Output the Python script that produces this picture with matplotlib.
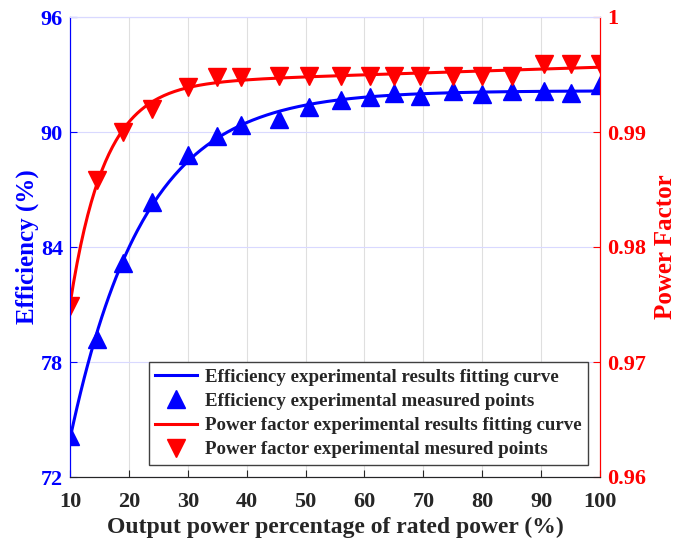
import numpy as np
import matplotlib
matplotlib.use('Agg')
import matplotlib.pyplot as plt

# output power as % of rated power
load_pct = [10, 14.5, 19, 24, 30, 35, 39, 45.5, 50.5, 56, 61, 65, 69.5, 75, 80, 85, 90.5, 95, 100]
# measured efficiency (%)
efficiency = [74.14, 79.18, 83.18, 86.35, 88.78, 89.77, 90.35, 90.70, 91.30, 91.65,
              91.83, 92.05, 91.86, 92.14, 92.00, 92.14, 92.14, 92.03, 92.43]
# measured power factor
power_factor = [0.9749, 0.9858, 0.9900, 0.9920, 0.9939, 0.9948, 0.9948, 0.9949, 0.9949, 0.9949,
                0.9949, 0.9949, 0.9949, 0.9949, 0.9949, 0.9949, 0.9959, 0.9959, 0.9959]

x_ticks = [10, 20, 30, 40, 50, 60, 70, 80, 90, 100]
eff_ticks = [72, 78, 84, 90, 96]
pf_ticks = [0.96, 0.97, 0.98, 0.99, 1.0]
pf_ticklabels = ['0.96', '0.97', '0.98', '0.99', '1']


def fit_curve(x, y, slope=True):
    # least squares fit of y = a + d*x + b*exp(-c*x), c found by grid search
    x = np.asarray(x, float)
    y = np.asarray(y, float)
    best = None
    for c in np.linspace(0.01, 0.3, 600):
        cols = [np.ones_like(x), np.exp(-c * x)]
        if slope:
            cols.append(x)
        A = np.column_stack(cols)
        coef, *_ = np.linalg.lstsq(A, y, rcond=None)
        err = np.sum((A @ coef - y) ** 2)
        if best is None or err < best[0]:
            best = (err, c, coef)
    _, c, coef = best
    xs = np.linspace(x.min(), x.max(), 300)
    ys = coef[0] + coef[1] * np.exp(-c * xs)
    if slope:
        ys = ys + coef[2] * xs
    return xs, ys


plt.rcParams['font.family'] = ['Liberation Serif', 'DejaVu Serif']
plt.rcParams['font.weight'] = 'bold'

blue = '#0000ff'
red = '#ff0000'
dark = '#262626'

fig = plt.figure(figsize=(6.86, 5.42), dpi=100)
ax = fig.add_axes([70 / 686, 65 / 542, 530 / 686, 460 / 542])
ax2 = ax.twinx()

xs, ys = fit_curve(load_pct, efficiency, slope=False)
l1, = ax.plot(xs, ys, color=blue, lw=2.2)
m1, = ax.plot(load_pct, efficiency, '^', color=blue, ms=13, ls='none')

xs2, ys2 = fit_curve(load_pct, power_factor, slope=True)
l2, = ax2.plot(xs2, ys2, color=red, lw=2.2)
m2, = ax2.plot(load_pct, power_factor, 'v', color=red, ms=13, ls='none')

ax.set_xlim(10, 100)
ax.set_ylim(72, 96)
ax2.set_ylim(0.96, 1.0)
ax.set_xticks(x_ticks)
ax.set_yticks(eff_ticks)
ax2.set_yticks(pf_ticks)
ax2.set_yticklabels(pf_ticklabels)

ax.grid(True, axis='x', color='#dfdfdf', lw=0.8)
ax.grid(True, axis='y', color='#d9d9ff', lw=0.8)
ax.set_axisbelow(True)

ax.tick_params(axis='x', direction='in', length=5, colors=dark, labelsize=16, pad=11)
ax.tick_params(axis='y', direction='in', length=5, colors=blue, labelsize=16, pad=5)
ax2.tick_params(axis='y', direction='in', length=5, colors=red, labelsize=16, pad=5)

for a in (ax, ax2):
    a.spines['left'].set_color(blue)
    a.spines['right'].set_color(red)
    a.spines['bottom'].set_color(dark)
    a.spines['top'].set_color('#d9d9ff')

ax.set_xlabel('Output power percentage of rated power (%)', fontsize=17, fontweight='bold',
              color=dark, labelpad=3)
ax.set_ylabel('Efficiency (%)', fontsize=18, fontweight='bold', color=blue, labelpad=1)
ax2.set_ylabel('Power Factor', fontsize=18, fontweight='bold', color=red, labelpad=6)

leg = ax2.legend([l1, m1, l2, m2],
                 ['Efficiency experimental results fitting curve',
                  'Efficiency experimental measured points',
                  'Power factor experimental results fitting curve',
                  'Power factor experimental mesured points'],
                 loc='lower right', bbox_to_anchor=(0.977, 0.026), borderaxespad=0,
                 fontsize=13.6, fancybox=False, framealpha=1, edgecolor='#404040',
                 handlelength=2.2, handletextpad=0.4, labelspacing=0.37, borderpad=0.35)
leg.get_frame().set_linewidth(1.0)
for t in leg.get_texts():
    t.set_color(dark)

fig.savefig('out.png', dpi=100)
